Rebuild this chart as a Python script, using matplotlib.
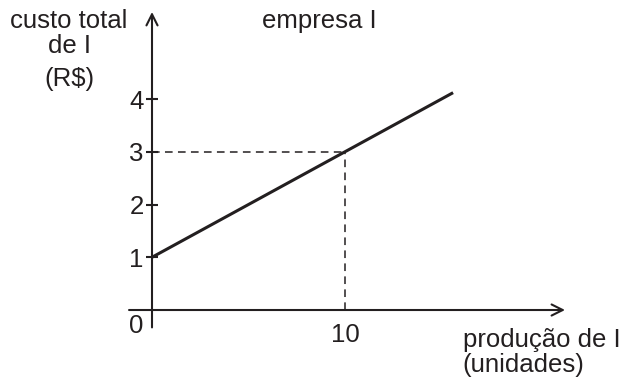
import matplotlib.pyplot as plt

plt.rcParams['font.family'] = ['Liberation Sans', 'DejaVu Sans']

# data
line_x = [0, 10, 15.6]
line_y = [1, 3, 4.12]
y_ticks = [1, 2, 3, 4]
y_tick_labels = ['1', '2', '3', '4']
x_ticks = [10]
x_tick_labels = ['10']
mark_x = 10
mark_y = 3

fig = plt.figure(figsize=(6.26, 3.78), dpi=100)
ax = fig.add_axes([0, 0, 1, 1])
ax.set_xlim(-7.876, 24.56)
ax.set_ylim(-1.289, 5.877)

for s in ['top', 'right']:
    ax.spines[s].set_visible(False)
ax.spines['left'].set_position(('data', 0))
ax.spines['bottom'].set_position(('data', 0))
ax.spines['left'].set_visible(False)
ax.spines['bottom'].set_visible(False)

# axes with arrows
ax.annotate('', xy=(0, 5.65), xytext=(0, -0.33),
            arrowprops=dict(arrowstyle='->', lw=1.5, color='#231f20',
                            mutation_scale=20, shrinkA=0, shrinkB=0))
ax.annotate('', xy=(21.4, 0), xytext=(-1.19, 0),
            arrowprops=dict(arrowstyle='->', lw=1.5, color='#231f20',
                            mutation_scale=20, shrinkA=0, shrinkB=0))

fs = 18.5
ax.set_yticks(y_ticks)
ax.set_yticklabels(y_tick_labels)
ax.set_xticks(x_ticks)
ax.set_xticklabels(x_tick_labels)
ax.tick_params(axis='y', direction='inout', length=8, width=1.5, pad=2,
               labelsize=fs, colors='#231f20')
ax.tick_params(axis='x', length=0, pad=9, labelsize=fs, colors='#231f20')

# cost line and dashed guides
ax.plot(line_x, line_y, color='#231f20', lw=2.2, solid_capstyle='butt')
ax.plot([0, mark_x], [mark_y, mark_y], color='#231f20', lw=1.1, ls=(0, (5, 3.5)))
ax.plot([mark_x, mark_x], [0, mark_y], color='#231f20', lw=1.1, ls=(0, (5, 3.5)))

txt = dict(fontsize=fs, color='#231f20')
ax.text(-0.8, -0.3, '0', ha='center', va='center', **txt)
ax.text(-4.3, 5.48, 'custo total', ha='center', va='center', **txt)
ax.text(-4.3, 5.0, 'de I', ha='center', va='center', **txt)
ax.text(-4.3, 4.38, '(R$)', ha='center', va='center', **txt)
ax.text(8.65, 5.47, 'empresa I', ha='center', va='center', **txt)
ax.text(16.1, -0.57, 'produção de I', ha='left', va='center', **txt)
ax.text(16.1, -1.05, '(unidades)', ha='left', va='center', **txt)

fig.savefig('out.png', dpi=100)
